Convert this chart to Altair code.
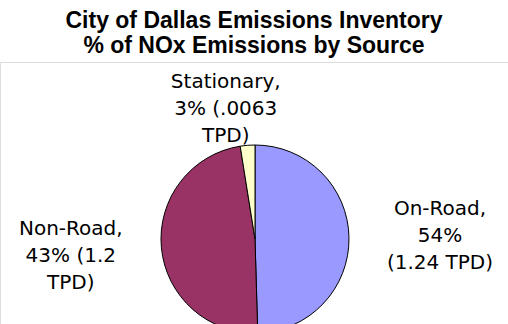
import altair as alt
import pandas as pd

sources = ["On-Road", "Non-Road", "Stationary"]
tpd = [1.24, 1.2, 0.063]  # slice sizes as drawn
order_idx = [0, 1, 2]
labels = ["On-Road,\n54%\n(1.24 TPD)", "Non-Road,\n43% (1.2\nTPD)", "Stationary,\n3% (.0063\nTPD)"]
colors = ["#9999FF", "#993366", "#FFFFCC"]
title_lines = ["City of Dallas Emissions Inventory", "% of NOx Emissions by Source"]

df = pd.DataFrame({"source": sources, "tpd": tpd, "idx": order_idx, "label": labels})

base = (
    alt.Chart(df)
    .transform_joinaggregate(total="sum(tpd)")
    .transform_window(cum="sum(tpd)", sort=[alt.SortField("idx")], frame=[None, 0])
    .transform_calculate(
        f0="(datum.cum - datum.tpd) / datum.total",
        f1="datum.cum / datum.total",
        fm="(datum.cum - datum.tpd / 2) / datum.total",
    )
)

theta_scale = alt.Scale(domain=[0, 1], range=[0, 6.283185307179586])
cx, cy = 255, 177

pie = base.mark_arc(stroke="#000000", strokeWidth=1).encode(
    theta=alt.Theta("f0:Q", scale=theta_scale),
    theta2="f1:Q",
    color=alt.Color("source:N", scale=alt.Scale(domain=sources, range=colors), legend=None),
    radius=alt.value(94),
    x=alt.value(cx),
    y=alt.value(cy),
)

text_style = dict(font="DejaVu Sans", fontSize=20, lineHeight=27, lineBreak="\n",
                  align="center", baseline="middle", color="#000000")

side_labels = base.transform_filter("datum.source != 'Stationary'").mark_text(dy=-27, **text_style).encode(
    theta=alt.Theta("fm:Q", scale=theta_scale),
    radius=alt.value(185),
    text="label:N",
    x=alt.value(cx),
    y=alt.value(cy),
)

top_label = base.transform_filter("datum.source == 'Stationary'").mark_text(dx=-19, dy=-27, **text_style).encode(
    theta=alt.Theta("fm:Q", scale=theta_scale),
    radius=alt.value(130),
    text="label:N",
    x=alt.value(cx),
    y=alt.value(cy),
)

chart = (
    alt.layer(pie, side_labels, top_label)
    .properties(
        width=508,
        height=262,
        padding={"left": 0, "right": 0, "top": 62, "bottom": 0},
        autosize=alt.AutoSizeParams(type="none"),
        title=alt.TitleParams(
            text=title_lines,
            font="Liberation Sans",
            fontSize=23,
            fontWeight="bold",
            lineHeight=25,
            anchor="middle",
            offset=4,
            color="#000000",
        ),
    )
    .configure_view(stroke=None)
    .configure(background="#FFFFFF")
)

chart.save("out.html", embed_options={"renderer": "svg", "actions": False})
